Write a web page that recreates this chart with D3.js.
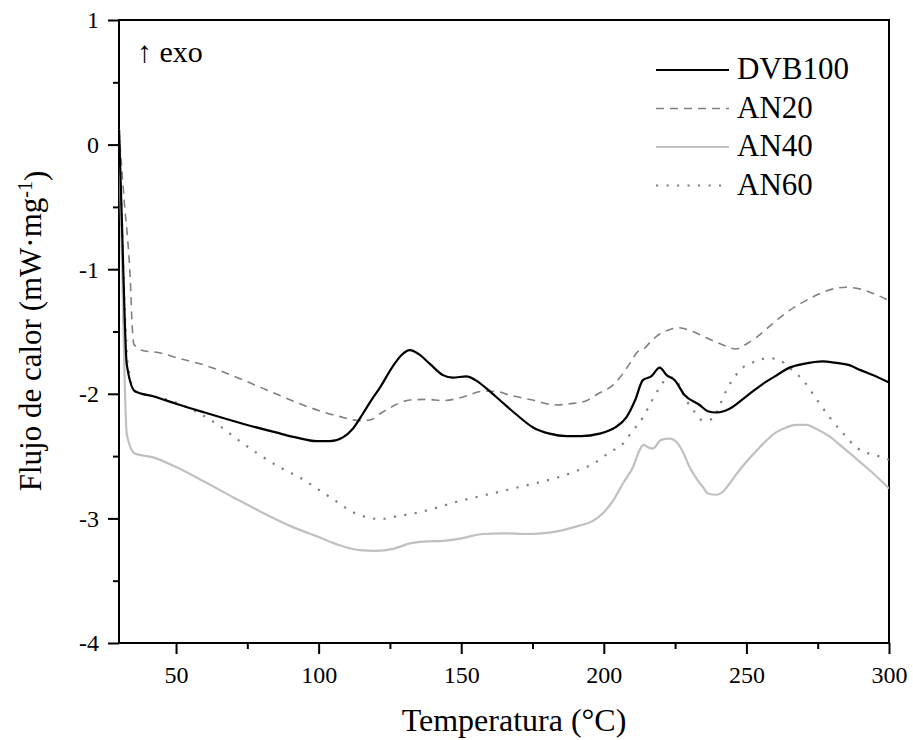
<!DOCTYPE html>
<meta charset="utf-8">
<style>
  html, body { margin: 0; background: #fff; }
  text { font-family: "Liberation Serif", "Times New Roman", serif; fill: #000; }
  .axis path, .axis line { stroke: #000; stroke-width: 2; }
  .frame { fill: none; stroke: #000; stroke-width: 2; }
  .line { fill: none; }
</style>
<body>
<script src="https://d3js.org/d3.v7.min.js"></script>
<script>
// temperatura (°C), flujo de calor (mW·mg-1)
var dvb100 = [[30,0.12],[31,-0.6],[32,-1.4],[32.7,-1.76],[35.6,-1.98],[42,-2.02],[50,-2.08],[60,-2.15],[73.4,-2.24],[85,-2.31],[92,-2.35],[99.3,-2.38],[104,-2.38],[108.5,-2.35],[112,-2.28],[115.5,-2.16],[118.5,-2.05],[121.5,-1.95],[126,-1.78],[129,-1.69],[132,-1.65],[135,-1.68],[139,-1.76],[143.6,-1.85],[147,-1.87],[151.8,-1.86],[155,-1.89],[159,-1.96],[163.5,-2.05],[169,-2.16],[175.2,-2.27],[181,-2.32],[186.9,-2.34],[192,-2.34],[198.5,-2.32],[204,-2.27],[207.9,-2.19],[211,-2.05],[213.7,-1.89],[216.6,-1.86],[219.6,-1.79],[222,-1.85],[224.8,-1.89],[228.3,-2.01],[233.6,-2.09],[236.5,-2.14],[239.4,-2.15],[242,-2.14],[244.1,-2.12],[250,-2.02],[255.8,-1.92],[260,-1.86],[265.1,-1.79],[270,-1.76],[276.8,-1.74],[281,-1.75],[286.1,-1.77],[290,-1.81],[294.3,-1.85],[300,-1.91]];

var an20 = [[30,0.12],[31,-0.2],[32,-0.5],[33,-0.75],[34,-1.1],[34.6,-1.45],[35.2,-1.6],[37.9,-1.65],[44,-1.67],[50.2,-1.71],[60,-1.77],[73.6,-1.89],[85,-2.0],[96.9,-2.11],[107,-2.18],[114.4,-2.215],[118,-2.21],[121.5,-2.16],[126,-2.1],[132,-2.05],[138,-2.045],[143.6,-2.055],[150,-2.03],[157.6,-1.98],[162,-1.98],[167,-2.01],[175,-2.05],[183.4,-2.09],[188,-2.08],[193.9,-2.055],[198,-2.0],[203.2,-1.93],[206,-1.86],[209,-1.76],[212,-1.66],[214,-1.64],[216.5,-1.58],[219.6,-1.52],[222.5,-1.49],[226,-1.47],[230,-1.49],[235.9,-1.55],[241,-1.6],[246.4,-1.64],[250,-1.6],[253.4,-1.55],[259,-1.44],[265.1,-1.33],[271,-1.25],[276.8,-1.185],[281,-1.155],[284.9,-1.145],[290,-1.16],[295,-1.2],[300,-1.25]];

var an40 = [[30,0.12],[31,-0.9],[32,-1.9],[32.7,-2.32],[35.6,-2.48],[42,-2.51],[50.2,-2.59],[59.5,-2.70],[70,-2.83],[80,-2.95],[90,-3.06],[100,-3.15],[108,-3.22],[114.4,-3.255],[120,-3.26],[126.1,-3.245],[132,-3.2],[138,-3.185],[143.6,-3.18],[150,-3.16],[157.6,-3.125],[165,-3.12],[172.9,-3.125],[178,-3.12],[184.5,-3.10],[191,-3.06],[196.2,-3.02],[200,-2.95],[203.2,-2.86],[206.7,-2.72],[210.2,-2.59],[212.6,-2.45],[214,-2.41],[215.5,-2.43],[217.2,-2.44],[220.1,-2.37],[223.1,-2.36],[226,-2.40],[228,-2.48],[230.1,-2.59],[232.5,-2.68],[234.8,-2.75],[236.5,-2.80],[239.5,-2.81],[242,-2.78],[244.1,-2.72],[248,-2.6],[253.4,-2.46],[260.4,-2.31],[264,-2.27],[267.4,-2.25],[271,-2.25],[274.4,-2.28],[279,-2.34],[283.8,-2.43],[290,-2.55],[295,-2.65],[300,-2.76]];

var an60 = [[30,0.12],[31,-0.6],[32,-1.3],[33,-1.75],[35.6,-1.98],[42,-2.02],[50,-2.07],[55,-2.12],[60.7,-2.19],[66,-2.27],[71.2,-2.36],[78,-2.47],[86.4,-2.59],[94,-2.68],[100,-2.77],[106,-2.86],[112,-2.95],[116.8,-2.99],[121.5,-3.005],[128,-2.98],[135.5,-2.95],[142,-2.91],[149.5,-2.86],[157,-2.82],[164.7,-2.78],[171,-2.745],[177.5,-2.71],[184,-2.67],[190.4,-2.62],[196.4,-2.56],[202,-2.47],[206.7,-2.40],[210,-2.30],[213.7,-2.19],[216.5,-2.07],[219.6,-1.95],[222,-1.88],[224.8,-1.87],[226.8,-1.95],[228.9,-2.05],[232,-2.15],[234.8,-2.215],[238.3,-2.20],[240.5,-2.1],[243,-1.97],[246,-1.86],[248.7,-1.79],[252,-1.75],[255.8,-1.72],[258.5,-1.715],[261.6,-1.73],[265.5,-1.8],[269.8,-1.89],[274.5,-2.04],[279.2,-2.19],[284,-2.32],[288.5,-2.43],[293,-2.48],[297.8,-2.51],[300,-2.53]];

var seriesNames = ["DVB100", "AN20", "AN40", "AN60"];
var xTicks = [50, 100, 150, 200, 250, 300];
var xMinor = [75, 125, 175, 225, 275];
var yTicks = [-4, -3, -2, -1, 0, 1];
var yMinor = [-3.5, -2.5, -1.5, -0.5, 0.5];

var margin = {top: 20, right: 24, bottom: 97, left: 119},
    width = 889 - margin.left,
    height = 643 - margin.top;

var serif = '"Liberation Serif", "Times New Roman", serif';

var styles = [
  {stroke: "#000000", width: 2.2, dash: null},
  {stroke: "#808080", width: 1.6, dash: "8,6"},
  {stroke: "#c0c0c0", width: 2.2, dash: null},
  {stroke: "#808080", width: 2.2, dash: "2.2,8.3"}
];

var xScale = d3.scaleLinear().domain([30, 300]).range([0, width]);
var yScale = d3.scaleLinear().domain([-4, 1]).range([height, 0]);

var svg = d3.select("body").append("svg")
    .attr("width", 913)
    .attr("height", 740)
  .append("g")
    .attr("transform", "translate(" + margin.left + "," + margin.top + ")");

svg.append("defs").append("clipPath").attr("id", "clip")
  .append("rect").attr("width", width).attr("height", height);

// minor ticks
svg.append("g").attr("class", "axis")
    .attr("transform", "translate(0," + height + ")")
    .call(d3.axisBottom(xScale).tickValues(xMinor).tickSize(6).tickFormat(""))
    .select(".domain").remove();
svg.append("g").attr("class", "axis")
    .call(d3.axisLeft(yScale).tickValues(yMinor).tickSize(6).tickFormat(""))
    .select(".domain").remove();

// major ticks
var gx = svg.append("g").attr("class", "axis")
    .attr("transform", "translate(0," + height + ")")
    .call(d3.axisBottom(xScale).tickValues(xTicks).tickSize(11).tickSizeOuter(0).tickPadding(6));
gx.select(".domain").remove();
gx.attr("font-family", serif).attr("font-size", 24);
gx.selectAll("text").attr("dy", null).attr("y", 40);

var gy = svg.append("g").attr("class", "axis")
    .call(d3.axisLeft(yScale).tickValues(yTicks).tickSize(11).tickSizeOuter(0).tickPadding(9)
      .tickFormat(function(d) { return String(d); }));
gy.select(".domain").remove();
gy.attr("font-family", serif).attr("font-size", 24);
gy.selectAll("text").attr("dy", "0.33em");

svg.append("rect").attr("class", "frame")
    .attr("width", width).attr("height", height);

var line = d3.line()
    .x(function(d) { return xScale(d[0]); })
    .y(function(d) { return yScale(d[1]); })
    .curve(d3.curveMonotoneX);

var allSeries = [dvb100, an20, an40, an60];
// draw light ones first, black on top
[2, 3, 1, 0].forEach(function(i) {
  svg.append("path")
      .datum(allSeries[i])
      .attr("class", "line")
      .attr("clip-path", "url(#clip)")
      .attr("stroke", styles[i].stroke)
      .attr("stroke-width", styles[i].width)
      .attr("stroke-dasharray", styles[i].dash)
      .attr("d", line);
});

// legend
var legend = svg.append("g").attr("transform", "translate(" + (656 - margin.left) + "," + (70 - margin.top) + ")");
seriesNames.forEach(function(name, i) {
  var row = legend.append("g").attr("transform", "translate(0," + (i * 38.5) + ")");
  row.append("line")
      .attr("x1", 0).attr("x2", 73).attr("y1", 0).attr("y2", 0)
      .attr("stroke", styles[i].stroke)
      .attr("stroke-width", styles[i].width)
      .attr("stroke-dasharray", styles[i].dash);
  row.append("text")
      .attr("x", 81).attr("y", 9)
      .style("font-size", "31px")
      .text(name);
});

// exo marker
svg.append("text")
    .attr("x", 137 - margin.left).attr("y", 62 - margin.top)
    .style("font-size", "30px")
    .text("\u2191 exo");

// axis titles
svg.append("text")
    .attr("x", width / 2 + 10).attr("y", 731 - margin.top)
    .attr("text-anchor", "middle")
    .style("font-size", "32px")
    .text("Temperatura (\u00B0C)");

var yt = svg.append("text")
    .attr("transform", "translate(" + (41 - margin.left) + "," + (331 - margin.top) + ") rotate(-90)")
    .attr("text-anchor", "middle")
    .style("font-size", "31px");
yt.append("tspan").text("Flujo de calor (mW\u00B7mg");
yt.append("tspan").attr("dy", "-0.45em").style("font-size", "20px").text("-1");
yt.append("tspan").attr("dy", "0.45em").text(")");
</script>
</body>
